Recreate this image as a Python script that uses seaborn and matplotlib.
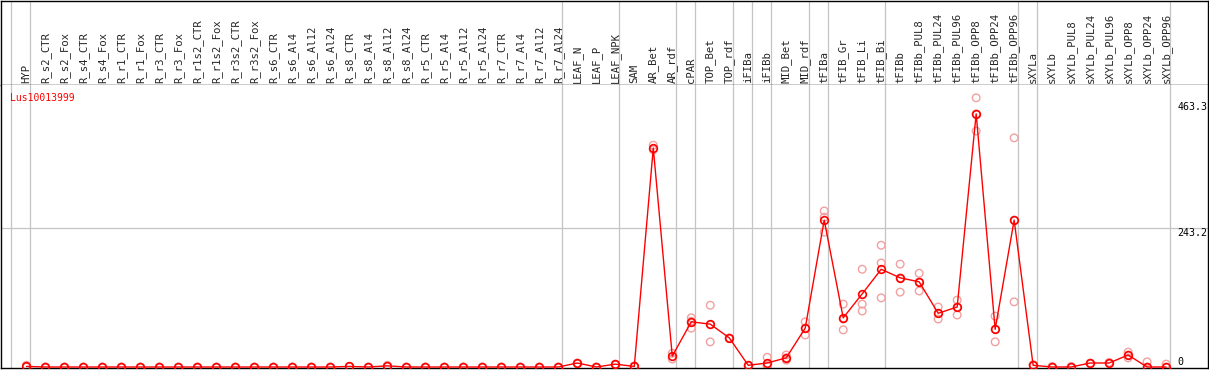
import pandas as pd
import seaborn as sns
import matplotlib.pyplot as plt

# Samples (x axis), tissue group used for the separator lines
samples = ['HYP',
           'R_s2_CTR', 'R_s2_Fox', 'R_s4_CTR', 'R_s4_Fox', 'R_r1_CTR', 'R_r1_Fox',
           'R_r3_CTR', 'R_r3_Fox', 'R_r1s2_CTR', 'R_r1s2_Fox', 'R_r3s2_CTR', 'R_r3s2_Fox',
           'R_s6_CTR', 'R_s6_Al4', 'R_s6_Al12', 'R_s6_Al24', 'R_s8_CTR', 'R_s8_Al4',
           'R_s8_Al12', 'R_s8_Al24', 'R_r5_CTR', 'R_r5_Al4', 'R_r5_Al12', 'R_r5_Al24',
           'R_r7_CTR', 'R_r7_Al4', 'R_r7_Al12', 'R_r7_Al24',
           'LEAF_N', 'LEAF_P', 'LEAF_NPK',
           'SAM', 'AR_Bet', 'AR_rdf', 'cPAR', 'TOP_Bet', 'TOP_rdf', 'iFIBa', 'iFIBb',
           'MID_Bet', 'MID_rdf', 'tFIBa', 'tFIB_Gr', 'tFIB_Li', 'tFIB_Bi',
           'tFIBb', 'tFIBb_PUL8', 'tFIBb_PUL24', 'tFIBb_PUL96', 'tFIBb_OPP8',
           'tFIBb_OPP24', 'tFIBb_OPP96',
           'sXYLa', 'sXYLb', 'sXYLb_PUL8', 'sXYLb_PUL24', 'sXYLb_PUL96', 'sXYLb_OPP8',
           'sXYLb_OPP24', 'sXYLb_OPP96']
groups = (['HYP'] + ['ROOT'] * 28 + ['LEAF'] * 3 + ['APEX'] * 3 + ['cPAR'] + ['TOP'] * 2
          + ['iFIBa', 'iFIBb'] + ['MID'] * 2 + ['tFIBa'] + ['tFIBx'] * 3 + ['tFIBb'] * 7
          + ['sXYLa'] + ['sXYLb'] * 7)

# mean expression (red line)
mean_vals = [1,
             0, 0, 0, 0, 0, 0, 0, 0, 0, 0, 0, 0,
             0, 0, 0, 0, 1, 0, 2, 0, 0, 0, 0, 0, 0, 0, 0, 0,
             7, 0, 5,
             1, 383, 19, 79, 75, 51, 3, 7,
             16, 68, 257, 86, 128, 171,
             156, 149, 94, 105, 443, 66, 257,
             3, 0, 0, 7, 7, 21, 0, 0]

# replicate values (pink circles)
rep_vals = [[3, 0],
            [0, 0], [0, 0], [0, 0], [0, 0], [0, 0], [0, 0], [0, 0], [0, 0], [0, 0],
            [0, 0], [0, 0], [0, 0], [0, 0], [0, 0], [0, 0], [0, 0], [1, 1], [0, 0],
            [2, 3], [0, 0], [0, 0], [0, 0], [0, 0], [0, 0], [0, 0], [0, 0], [0, 0], [0, 0],
            [7, 6], [0, 0], [5, 4],
            [1, 2], [388, 380], [14, 24], [86, 68, 80], [108, 44, 74], [51, 50],
            [3, 2], [17, 2, 2],
            [12, 21, 16], [79, 56, 68], [273, 236, 262], [110, 65, 84],
            [171, 110, 98], [213, 182, 121],
            [180, 131, 156], [164, 133, 149], [105, 84, 94], [117, 91, 105],
            [471, 413, 443], [89, 44, 66], [401, 114, 257],
            [3, 4], [1, 0], [0, 1], [7, 6], [7, 8], [26, 16, 21], [9, 0], [5, 0]]

gene = 'Lus10013999'
ytick_vals = [0, 243.2, 463.3]

sns.set_style('white')
plt.rcParams['font.family'] = ['DejaVu Sans Mono', 'DejaVu Sans']

dat = pd.DataFrame({'pos': range(len(samples)), 'sample': samples, 'value': mean_vals})
reps = pd.DataFrame([(i, v) for i, vals in enumerate(rep_vals) for v in vals],
                    columns=['pos', 'value'])

W, H = 1209, 370
fig = plt.figure(figsize=(W / 100, H / 100), dpi=100)
ax_lab = fig.add_axes([1 / W, (H - 85) / H, 1206.5 / W, 84.5 / H])
ax = fig.add_axes([1 / W, 2 / H, 1206.5 / W, 283 / H])

xlim = (-1.342, 62.18)
grid_c = '#c4c4c4'

# separators between tissue groups
bounds = [-1 + 0.184] + [j + 0.184 for j in range(len(groups) - 1)
                         if groups[j] != groups[j + 1]] + [len(groups) - 1 + 0.184]
for a in (ax_lab, ax):
    for b in bounds:
        a.axvline(b, color=grid_c, lw=0.9, zorder=0)
    a.set_xlim(*xlim)
    a.set_xticks([])
    a.set_yticks([])

ax.axhline(ytick_vals[1], color=grid_c, lw=0.9, zorder=0)

sns.scatterplot(data=reps, x='pos', y='value', s=30, marker='o', fc='none',
                ec='#f2a0a0', linewidth=1.0, ax=ax, zorder=2)
sns.lineplot(data=dat, x='pos', y='value', color='red', lw=1.0, marker='o',
             markersize=5.5, mfc='none', mec='red', mew=1.2, ax=ax, zorder=3)

ax.set_ylim(-1.75, 493.4)
ax.set_xlim(*xlim)
ax.set_xlabel('')
ax.set_ylabel('')

# y labels on the right
for v in ytick_vals:
    ax.text(60.6, v, f'{v:g}' if v else '0', fontsize=7.2, color='black',
            ha='left', va='bottom' if v == 0 else 'top')

ax.text(0.0075, 0.972, gene, transform=ax.transAxes, color='red', fontsize=7,
        ha='left', va='top')

# rotated sample names
ax_lab.set_ylim(0, 1)
for i, s in enumerate(samples):
    ax_lab.text(i, 0.0235, s, rotation=90, ha='center', va='bottom', fontsize=7.7)

for sp in ax.spines.values():
    sp.set_color('black')
    sp.set_linewidth(1)
ax.spines['top'].set_visible(False)
for sp in ax_lab.spines.values():
    sp.set_color('black')
    sp.set_linewidth(1)

fig.savefig('out.png', dpi=100)
